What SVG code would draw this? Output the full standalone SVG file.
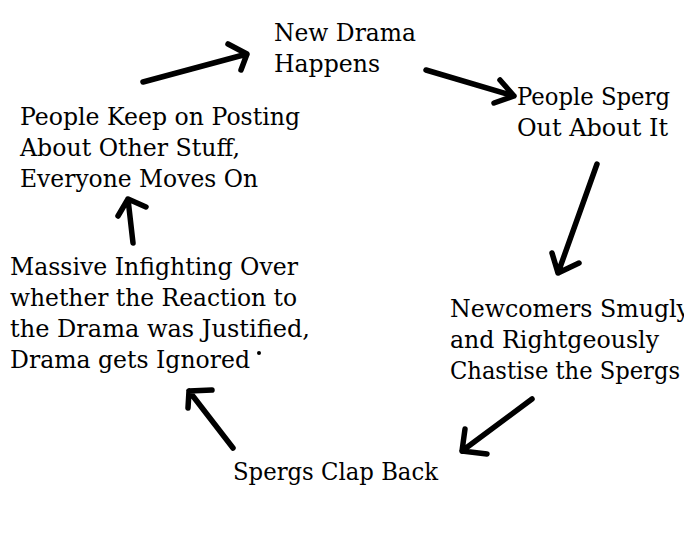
<svg xmlns="http://www.w3.org/2000/svg" width="684" height="549" viewBox="0 0 684 549">
<style>
text { font-family: "DejaVu Serif", "Liberation Serif", serif; font-size: 25px; fill: #000; }
.arrow { fill: none; stroke: #000; stroke-width: 5.5; stroke-linecap: round; stroke-linejoin: round; }
</style>
<rect width="684" height="549" fill="#fff"/>
<g id="connectors">
  <path class="arrow" d="M143,82 L247,54 M228,44 L247,54 L241,70"/>
  <path class="arrow" d="M426,70 L514,96 M500,80 L514,96 L494,103"/>
  <path class="arrow" d="M597,164 L558,273 M552,253 L558,273 L579,263"/>
  <path class="arrow" d="M532,399 L462,451 M465,429 L462,451 L487,454"/>
  <path class="arrow" d="M233,448 L189,391 M212,390 L189,391 L188,408"/>
  <path class="arrow" d="M133,243 L128,199 M118,216 L128,199 L146,207"/>
</g>
<g id="node-new-drama">
  <text x="274" y="41" textLength="142" lengthAdjust="spacingAndGlyphs">New Drama</text>
  <text x="274" y="72" textLength="106" lengthAdjust="spacingAndGlyphs">Happens</text>
</g>
<g id="node-sperg-out">
  <text x="517" y="105" textLength="153" lengthAdjust="spacingAndGlyphs">People Sperg</text>
  <text x="517" y="136" textLength="151" lengthAdjust="spacingAndGlyphs">Out About It</text>
</g>
<g id="node-newcomers">
  <text x="450" y="317" textLength="240" lengthAdjust="spacingAndGlyphs">Newcomers Smugly</text>
  <text x="450" y="348" textLength="209" lengthAdjust="spacingAndGlyphs">and Rightgeously</text>
  <text x="450" y="379" textLength="230" lengthAdjust="spacingAndGlyphs">Chastise the Spergs</text>
</g>
<g id="node-clap-back">
  <text x="233" y="480" textLength="205" lengthAdjust="spacingAndGlyphs">Spergs Clap Back</text>
</g>
<g id="node-infighting">
  <text x="10" y="275" textLength="288" lengthAdjust="spacingAndGlyphs">Massive Infighting Over</text>
  <text x="10" y="306" textLength="287" lengthAdjust="spacingAndGlyphs">whether the Reaction to</text>
  <text x="10" y="337" textLength="300" lengthAdjust="spacingAndGlyphs">the Drama was Justified,</text>
  <text x="10" y="368" textLength="240" lengthAdjust="spacingAndGlyphs">Drama gets Ignored</text>
  <circle cx="259" cy="353" r="2" fill="#000"/>
</g>
<g id="node-moves-on">
  <text x="20" y="125" textLength="280" lengthAdjust="spacingAndGlyphs">People Keep on Posting</text>
  <text x="20" y="156" textLength="220" lengthAdjust="spacingAndGlyphs">About Other Stuff,</text>
  <text x="20" y="187" textLength="238" lengthAdjust="spacingAndGlyphs">Everyone Moves On</text>
</g>
</svg>
